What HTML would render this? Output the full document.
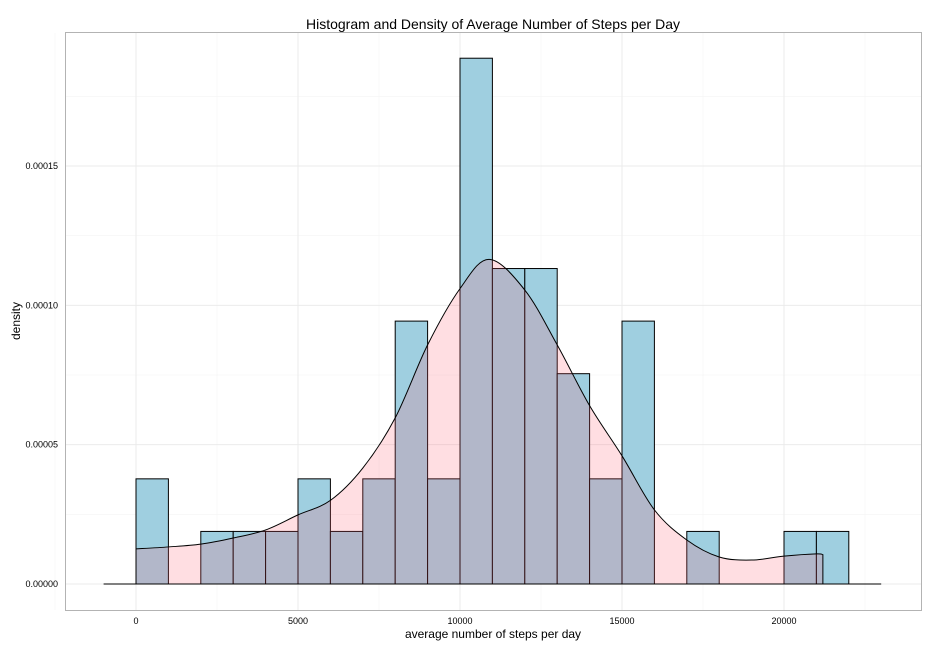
<!DOCTYPE html>
<html><head><meta charset="utf-8"><style>
body{margin:0;background:#fff;font-family:"Liberation Sans",sans-serif}
svg text{font-family:"Liberation Sans",sans-serif}
</style></head><body>
<svg id="c" width="936" height="648">
<rect x="0" y="0" width="936" height="648" fill="#fff"/>
<text x="493" y="29" text-anchor="middle" font-size="14">Histogram and Density of Average Number of Steps per Day</text>
<rect x="65.5" y="32.5" width="856" height="578" fill="#fff" stroke="#b3b3b3"/>
<g id="grid"></g><g id="bars"></g><g id="dens"></g><g id="axes"></g>
<text x="493" y="638" text-anchor="middle" font-size="12">average number of steps per day</text>
<text transform="translate(20,321) rotate(-90)" text-anchor="middle" font-size="12">density</text>
</svg>
<script>
const binStarts=[0,1000,2000,3000,4000,5000,6000,7000,8000,9000,10000,11000,12000,13000,14000,15000,16000,17000,18000,19000,20000,21000];
const counts=[2,0,1,1,1,2,1,2,5,2,10,6,6,4,2,5,0,1,0,0,1,1];
const totalN=53;
const binWidth=1000;
const densX=[0,1000,2000,3000,4000,5000,6000,7000,8000,9000,10000,10900,12000,13000,14000,15000,16000,17000,18000,19000,20000,21000,21200];
const densY=[1.26e-5,1.33e-5,1.43e-5,1.65e-5,1.94e-5,2.48e-5,3.0e-5,4.16e-5,5.96e-5,8.58e-5,1.06e-4,1.165e-4,1.055e-4,8.58e-5,6.4e-5,4.6e-5,2.66e-5,1.58e-5,9.7e-6,8.6e-6,1.0e-5,1.08e-5,1.05e-5];
const xTicks=[0,5000,10000,15000,20000];
const yTicks=[0,0.00005,0.0001,0.00015];
const yLabels=["0.00000","0.00005","0.00010","0.00015"];
const NS="http://www.w3.org/2000/svg";
const X=v=>136+v*0.0324;
const Y=v=>584-v*418/0.00015;
function mk(p,t,a){const e=document.createElementNS(NS,t);for(const k in a)e.setAttribute(k,a[k]);document.getElementById(p).appendChild(e);return e;}
[-2500,2500,7500,12500,17500,22500].forEach(v=>{const e=mk('grid','line',{x1:X(v),x2:X(v),y1:33,y2:610,stroke:'#f2f2f2','stroke-width':0.5});

});
[0.000025,0.000075,0.000125,0.000175].forEach(v=>{const e=mk('grid','line',{x1:66,x2:921,y1:Y(v),y2:Y(v),stroke:'#f2f2f2','stroke-width':0.5});

});
xTicks.forEach(v=>{const e=mk('grid','line',{x1:X(v),x2:X(v),y1:33,y2:610,stroke:'#ebebeb','stroke-width':1});


const t=mk('axes','text',{x:X(v),y:624,'text-anchor':'middle','font-size':9});t.textContent=v;

});
yTicks.forEach((v,i)=>{const e=mk('grid','line',{x1:66,x2:921,y1:Y(v),y2:Y(v),stroke:'#ebebeb','stroke-width':1});


const t=mk('axes','text',{x:58,y:Y(v)+3,'text-anchor':'end','font-size':9});t.textContent=yLabels[i];

});
binStarts.forEach((b,i)=>{if(!counts[i])return;const d=counts[i]/(totalN*binWidth);
const r=mk('bars','rect',{x:X(b),y:Y(d),width:X(b+binWidth)-X(b),height:Y(0)-Y(d),fill:'#9fcfe0',stroke:'#000','stroke-width':1});

});
const pts=densX.map((x,i)=>[X(x),Y(densY[i])]);
let line=`M${pts[0][0]},${pts[0][1]}`;
for(let i=1;i<pts.length;i++){const p0=pts[Math.max(i-2,0)],p1=pts[i-1],p2=pts[i],p3=pts[Math.min(i+1,pts.length-1)];
const c1=[p1[0]+(p2[0]-p0[0])/6,p1[1]+(p2[1]-p0[1])/6],c2=[p2[0]-(p3[0]-p1[0])/6,p2[1]-(p3[1]-p1[1])/6];
line+=` C${c1[0]},${c1[1]} ${c2[0]},${c2[1]} ${p2[0]},${p2[1]}`;}
const last=pts[pts.length-1];
const area=`M${pts[0][0]},${Y(0)} L`+line.slice(1)+` L${last[0]},${Y(0)} Z`;
const a=mk('dens','path',{d:area,fill:'rgba(255,90,110,0.2)',stroke:'none'});


const l=mk('dens','path',{d:area,fill:'none',stroke:'#000','stroke-width':1});


const bl=mk('dens','line',{x1:X(-1000),x2:X(23000),y1:Y(0),y2:Y(0),stroke:'#000','stroke-width':1});


</script>
</body></html>
